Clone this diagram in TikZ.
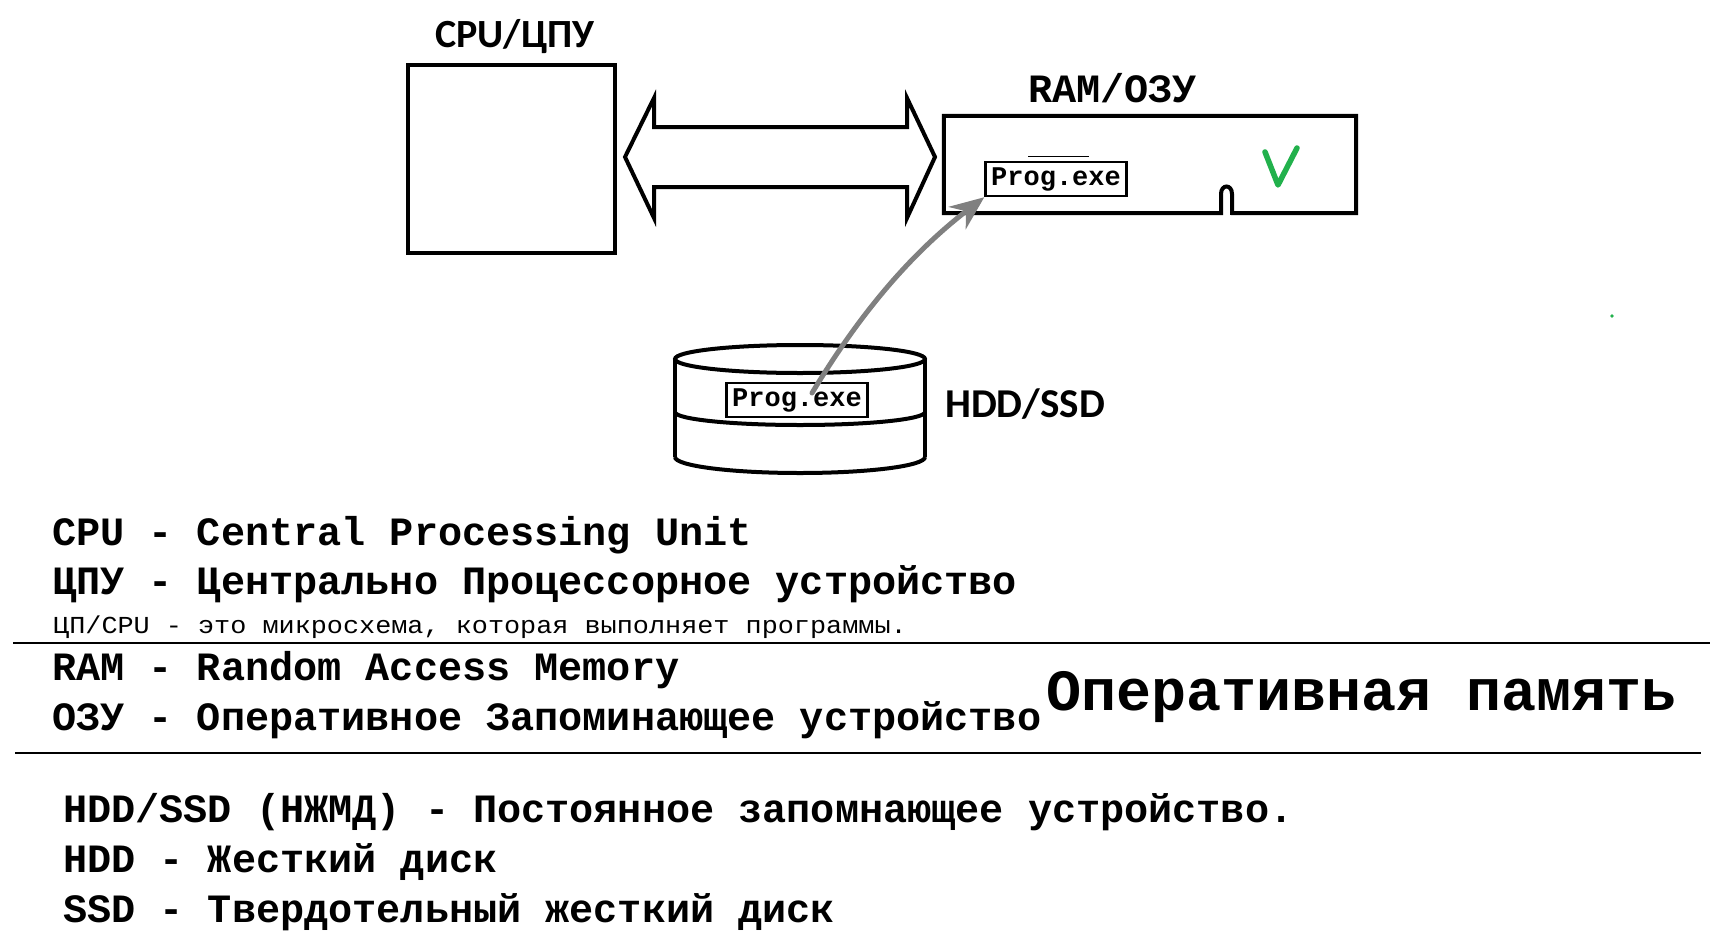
\documentclass[tikz,border=0pt]{standalone}
\usepackage{fontspec}
\setmainfont{Liberation Mono}
\newfontfamily\monof{Liberation Mono}
\newfontfamily\monos[FakeStretch=1.1]{Liberation Mono}
\newfontfamily\calf{Carlito}
\usetikzlibrary{arrows.meta}
\definecolor{chk}{RGB}{34,177,76}
\definecolor{arrowgray}{RGB}{128,128,128}
\begin{document}
\frenchspacing
\begin{tikzpicture}[x=1pt,y=-1pt,
  txt/.style={inner sep=0pt, anchor=base west, font=\monof\bfseries\fontsize{40.2}{48}\selectfont},
  smalltxt/.style={inner sep=0pt, anchor=base west, font=\monos\fontsize{24.4}{30}\selectfont},
  bigtxt/.style={inner sep=0pt, anchor=base west, font=\monof\bfseries\fontsize{58.4}{66}\selectfont},
  label/.style={inner sep=0pt, font=\calf\bfseries\fontsize{40}{48}\selectfont},
  progbox/.style={draw, line width=2.5pt, inner sep=0pt, minimum width=141pt, minimum height=34pt,
    font=\monof\bfseries\fontsize{27}{32}\selectfont, text height=18pt, text depth=5pt},
  thick4/.style={line width=4pt},
  rule/.style={line width=1.5pt}]
\fill[white] (0,0) rectangle (1710,934);
\useasboundingbox (0,0) rectangle (1710,934);

% CPU
\node[draw, thick4, inner sep=0pt, minimum width=207pt, minimum height=188pt] (cpu) at (511.5,159) {};
\node[label, anchor=base] (cpulabel) at (515,48) {CPU/ЦПУ};

% double arrow (bus)
\draw[thick4] (625,157) -- (654,98) -- (654,127) -- (907,127) -- (907,98) -- (935,157)
  -- (907,218) -- (907,187) -- (654,187) -- (654,218) -- cycle;

% RAM
\node[inner sep=0pt, minimum width=412pt, minimum height=97pt] (ram) at (1150,164.5) {};
\draw[thick4, line join=miter] (ram.north west) -- (ram.north east) -- (ram.south east) -- (1232,213) -- (1232,194)
  .. controls (1232,184) and (1221,184) .. (1221,194) -- (1221,213) -- (ram.south west) -- cycle;
\node[label, anchor=base west, font=\monof\bfseries\fontsize{40.2}{48}\selectfont] (ramlabel) at (1028,102) {RAM/ОЗУ};
\draw[line width=1pt] (1028,156) -- (1089,156);
\node[progbox] (ramprog) at (1056,179) {Prog.exe};
\draw[chk, line width=5.5pt, line cap=round, line join=round] (1265,152) -- (1278,185) -- (1297,148);
\fill[chk] (1612,316) circle[radius=1.8pt];

% HDD / SSD cylinder
\draw[thick4] (800,359) ellipse[x radius=125pt, y radius=14pt];
\draw[thick4] (675,359) -- (675,457);
\draw[thick4] (925,359) -- (925,457);
\draw[thick4] (675,412) arc[start angle=180, end angle=360, x radius=125pt, y radius=13pt];
\draw[thick4] (675,457) arc[start angle=180, end angle=360, x radius=125pt, y radius=16pt];
\node[progbox] (diskprog) at (797,400) {Prog.exe};
\node[label, anchor=base west, font=\calf\bfseries\fontsize{41}{48}\selectfont] (hddlabel) at (945,417) {HDD/SSD};

% load arrow
\coordinate (src) at (812,393);
\draw[arrowgray, line width=5pt, line cap=round, -{Stealth[length=34pt,width=28pt]}]
  (src) .. controls (850,330) and (900,262) .. (ramprog.south west);

% text block
\node[txt] (l1) at (52,545) {CPU - Central Processing Unit};
\node[txt] (l2) at (52,594) {ЦПУ - Центрально Процессорное устройство};
\node[smalltxt] (l3) at (53,633) {ЦП/CPU - это микросхема, которая выполняет программы.};
\draw[rule] (13,643) -- (1710,643);
\node[txt] (l4) at (52,680) {RAM - Random Access Memory};
\node[txt] (l5) at (52,730) {ОЗУ - Оперативное Запоминающее устройство};
\node[bigtxt] (l5b) at (1046,710) {Оперативная память};
\draw[rule] (15,753) -- (1701,753);
\node[txt] (l6) at (63,822) {HDD/SSD (НЖМД) - Постоянное запомнающее устройство.};
\node[txt] (l7) at (63,872) {HDD - Жесткий диск};
\node[txt] (l8) at (63,922) {SSD - Твердотельный жесткий диск};
\end{tikzpicture}
\end{document}
